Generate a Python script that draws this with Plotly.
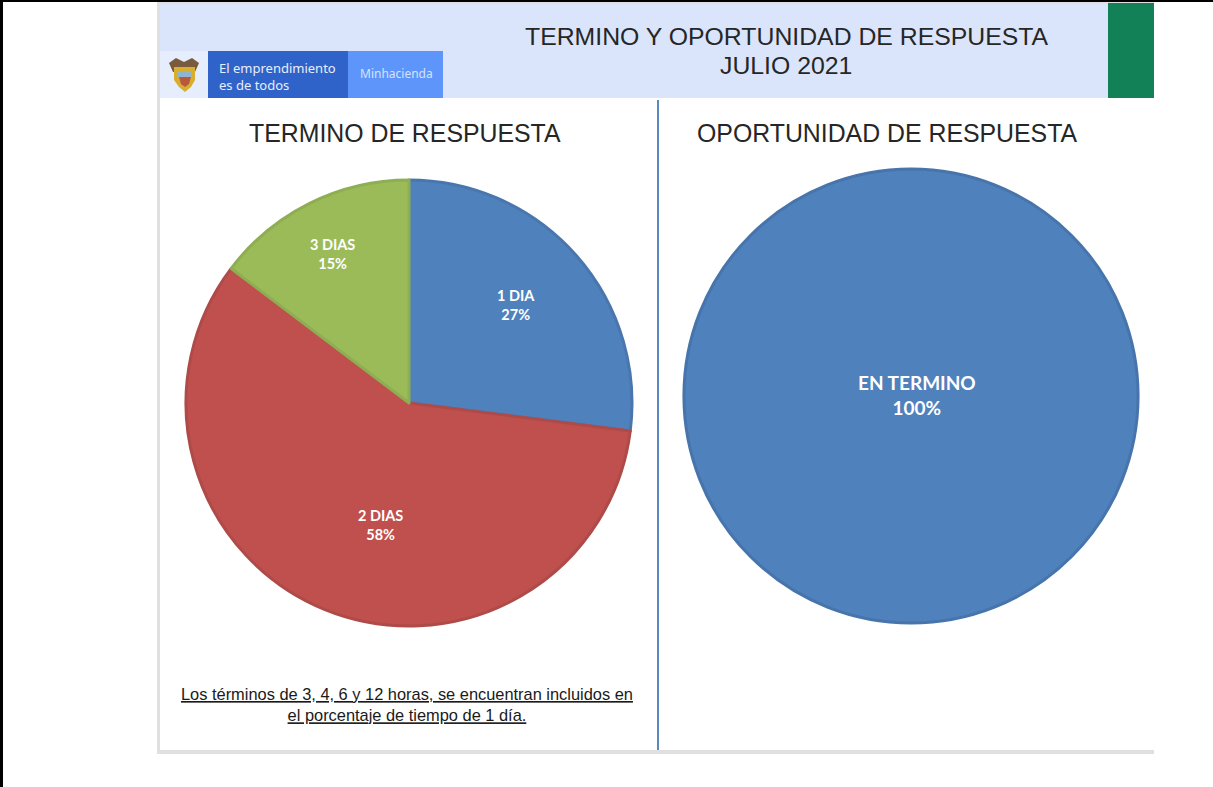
import plotly.graph_objects as go

W, H = 1213, 787

term_labels = ["1 DIA", "2 DIAS", "3 DIAS"]
term_values = [27, 58.3, 14.7]
term_fill = ["#4F81BD", "#C0504D", "#9BBB59"]
term_edge = ["#4A76AE", "#AE4B48", "#8FAD52"]
opp_labels = ["EN TERMINO"]
opp_values = [100]
opp_fill = ["#4F81BD"]
opp_edge = ["#4674AB"]

main_title = ["TERMINO Y OPORTUNIDAD DE RESPUESTA", "JULIO 2021"]
left_title = "TERMINO DE RESPUESTA"
right_title = "OPORTUNIDAD DE RESPUESTA"
note = "<u>Los términos de 3, 4, 6 y 12 horas, se encuentran incluidos en</u><br><u>el porcentaje de tiempo de 1 día.</u>"
brand = "El emprendimiento<br>es de todos"
ministry = "Minhacienda"


def fx(x):
    return x / W


def fy(y):
    return 1 - y / H


def rect(x0, y0, x1, y1, color):
    return dict(type="rect", xref="paper", yref="paper", layer="below",
                x0=fx(x0), x1=fx(x1), y0=fy(y0), y1=fy(y1),
                fillcolor=color, line=dict(width=0))


def path(points, color):
    d = "M" + " L".join(f"{fx(x):.5f},{fy(y):.5f}" for x, y in points) + " Z"
    return dict(type="path", xref="paper", yref="paper", path=d,
                fillcolor=color, line=dict(width=0))


def pie_domain(cx, cy, r):
    return dict(x=[fx(cx - r), fx(cx + r)], y=[fy(cy + r), fy(cy - r)])


def text(x, y, s, size, color="#262626", family="Liberation Sans", **kw):
    return dict(xref="paper", yref="paper", x=fx(x), y=fy(y), text=s,
                showarrow=False, xanchor="center", yanchor="middle",
                font=dict(size=size, color=color, family=family), **kw)


def slice_label(x, y, name, value, size):
    return text(x, y, f"<b>{name}<br>{value:.0f}%</b>", size, color="white", family="Lato")


fig = go.Figure()
fig.add_trace(go.Pie(labels=term_labels, values=term_values, sort=False,
                     direction="clockwise", rotation=0,
                     domain=pie_domain(409, 403, 223),
                     marker=dict(colors=term_fill, line=dict(color=term_edge, width=3)),
                     textinfo="none", showlegend=False))
fig.add_trace(go.Pie(labels=opp_labels, values=opp_values, sort=False,
                     domain=pie_domain(911, 396, 227),
                     marker=dict(colors=opp_fill, line=dict(color=opp_edge, width=3)),
                     textinfo="none", showlegend=False))

shapes = [
    rect(0, 0, W, 2, "#000000"),
    rect(0, 0, 3, H, "#000000"),
    rect(157, 2, 1154, 754, "#E0E0E0"),
    rect(160, 4, 1154, 750, "#FFFFFF"),
    rect(160, 4, 1108, 98, "#DAE5FB"),
    rect(1108, 3, 1154, 98, "#138158"),
    rect(160, 51, 208, 98, "#E6EDFC"),
    rect(208, 51, 348, 98, "#3063C9"),
    rect(348, 51, 443, 98, "#5E95FB"),
    rect(657, 100, 659, 750, "#5B8AC3"),
    path([(169, 63), (176, 58), (184, 62), (192, 58), (199, 63), (195, 72), (173, 72)], "#7A5A3C"),
    path([(174, 67), (195, 67), (195, 80), (191, 87), (185, 92), (179, 87), (174, 80)], "#D8AE2E"),
    path([(178, 71), (192, 71), (192, 77), (178, 77)], "#8FB6CE"),
    path([(179, 77), (191, 77), (189, 84), (185, 87), (181, 84)], "#B8583F"),
]

annotations = [
    text(786.5, 37, main_title[0], 24.8),
    text(786, 65.5, main_title[1], 24.8),
    text(404.5, 134, left_title, 24.85),
    text(887, 134, right_title, 24.85),
    text(407, 704, note, 16.4, color="#1A1A1A"),
    dict(xref="paper", yref="paper", x=fx(217), y=fy(76), text=brand, align="left",
         showarrow=False, xanchor="left", yanchor="middle",
         font=dict(size=13, color="#E8EEFB", family="Noto Sans")),
    text(396, 74, ministry, 12, color="#D5E3FD", family="Noto Sans"),
    slice_label(516, 305, term_labels[0], term_values[0], 14.5),
    slice_label(380, 525, term_labels[1], term_values[1], 14.5),
    slice_label(332, 254, term_labels[2], term_values[2], 14.5),
    slice_label(917, 395, opp_labels[0], opp_values[0], 19),
]

fig.update_layout(width=W, height=H, margin=dict(l=0, r=0, t=0, b=0),
                  paper_bgcolor="white", plot_bgcolor="white",
                  shapes=shapes, annotations=annotations)
fig.write_html("out.html", config=dict(displayModeBar=False),
               post_script="document.body.style.margin='0';document.body.style.overflow='hidden';")
